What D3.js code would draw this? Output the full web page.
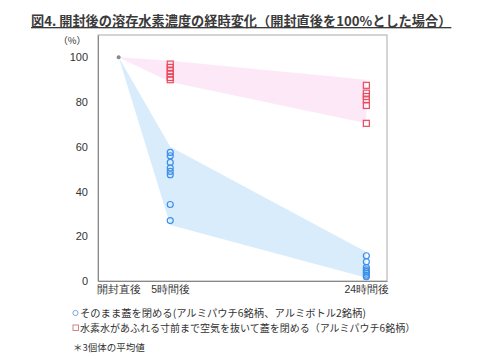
<!DOCTYPE html>
<html>
<head>
<meta charset="utf-8">
<script src="https://cdn.jsdelivr.net/npm/d3@7"></script>
<style>
  body { margin: 0; background: #fff; }
  svg { display: block; font-family: "Noto Sans CJK JP", sans-serif; }
</style>
</head>
<body>
<svg></svg>
<script>
// 経過時間（時間）
var hours = [0, 5, 24];
var xLabels = ["開封直後", "5時間後", "24時間後"];
var yTicks = [0, 20, 40, 60, 80, 100];

// ○ そのまま蓋を閉める（8銘柄）
var circle5h = [57.5, 56, 53, 50.5, 49, 47.5, 34.2, 27];
var circle24h = [11.3, 8.6, 6, 5, 4.3, 3.5, 2.6, 1.9];
// □ 空気を抜いて蓋を閉める（6銘柄）
var square5h = [97, 95.5, 94, 92.5, 91, 90];
var square24h = [87.5, 84, 82.5, 81, 78.5, 70.5];

// 範囲（帯）の上下
var blueBandTop = [100, 60, 13];
var blueBandBottom = [100, 25, 1.5];
var pinkBandTop = [100, 98.5, 90];
var pinkBandBottom = [100, 89, 70.5];

var width = 490, height = 362;
var svg = d3.select("svg").attr("width", width).attr("height", height);

var x = d3.scaleLinear().domain([-2, 26]).range([98, 387]);
var y = d3.scaleLinear().domain([0, 110]).range([281, 35]);

// タイトル
svg.append("text")
    .attr("x", 31).attr("y", 26)
    .attr("font-size", "13.2px")
    .attr("font-weight", "bold")
    .attr("fill", "#3a3a3a")
    .attr("text-decoration", "underline")
    .text("図4. 開封後の溶存水素濃度の経時変化（開封直後を100%とした場合）");

// 帯
function band(top, bottom) {
    var pts = hours.map((h, i) => [x(h), y(top[i])]);
    for (var i = hours.length - 1; i >= 0; i--) pts.push([x(hours[i]), y(bottom[i])]);
    return d3.line()(pts) + "Z";
}
svg.append("path").attr("d", band(blueBandTop, blueBandBottom)).attr("fill", "#d9ecfc");
svg.append("path").attr("d", band(pinkBandTop, pinkBandBottom)).attr("fill", "#fde6f7").attr("opacity", 0.9);

// 枠
svg.append("rect")
    .attr("x", x(-2)).attr("y", y(110))
    .attr("width", x(26) - x(-2)).attr("height", y(0) - y(110))
    .attr("fill", "none").attr("stroke", "#aaa");

var yAxis = d3.axisLeft(y).tickValues(yTicks).tickSize(0).tickPadding(10);
svg.append("g").attr("transform", "translate(" + x(-2) + ",0)").call(yAxis)
    .call(g => g.select(".domain").attr("stroke", "#888"))
    .selectAll("text").attr("font-size", "11px").attr("fill", "#333")
    .attr("font-family", "Liberation Sans, Arial, sans-serif");

var xAxis = d3.axisBottom(x).tickValues(hours).tickSize(0).tickPadding(5)
    .tickFormat((d, i) => xLabels[i]);
svg.append("g").attr("transform", "translate(0," + y(0) + ")").call(xAxis)
    .call(g => g.select(".domain").attr("stroke", "#888"))
    .selectAll("text").attr("font-size", "10.5px").attr("fill", "#333");

svg.append("text")
    .attr("x", 86).attr("y", 44)
    .attr("text-anchor", "end")
    .attr("font-size", "9.5px").attr("fill", "#333")
    .text("（%）");

// 開封直後の点
svg.append("circle").attr("cx", x(0)).attr("cy", y(100)).attr("r", 2).attr("fill", "#888");

// ○
var circles = circle5h.map(v => [5, v]).concat(circle24h.map(v => [24, v]));
svg.selectAll("circle.c").data(circles).enter().append("circle")
    .attr("class", "c")
    .attr("cx", d => x(d[0])).attr("cy", d => y(d[1])).attr("r", 3)
    .attr("fill", "none").attr("stroke", "#3d8fea").attr("stroke-width", 1.2);

// □
var squares = square5h.map(v => [5, v]).concat(square24h.map(v => [24, v]));
svg.selectAll("rect.s").data(squares).enter().append("rect")
    .attr("class", "s")
    .attr("x", d => x(d[0]) - 3).attr("y", d => y(d[1]) - 3)
    .attr("width", 6).attr("height", 6)
    .attr("fill", "none").attr("stroke", "#e84c5c").attr("stroke-width", 1.2);

// 凡例
svg.append("circle").attr("cx", 75.5).attr("cy", 313).attr("r", 2.6)
    .attr("fill", "none").attr("stroke", "#6a9ed8").attr("stroke-width", 0.9);
svg.append("text").attr("x", 80).attr("y", 317)
    .attr("font-size", "10.3px").attr("fill", "#333")
    .text("そのまま蓋を閉める(アルミパウチ6銘柄、アルミボトル2銘柄)");
svg.append("rect").attr("x", 73).attr("y", 325).attr("width", 5.5).attr("height", 5.5)
    .attr("fill", "none").attr("stroke", "#c77").attr("stroke-width", 0.9);
svg.append("text").attr("x", 80).attr("y", 332)
    .attr("font-size", "10px").attr("fill", "#333")
    .text("水素水があふれる寸前まで空気を抜いて蓋を閉める（アルミパウチ6銘柄）");
svg.append("text").attr("x", 73).attr("y", 351)
    .attr("font-size", "9.5px").attr("fill", "#333")
    .text("＊3個体の平均値");
</script>
</body>
</html>
